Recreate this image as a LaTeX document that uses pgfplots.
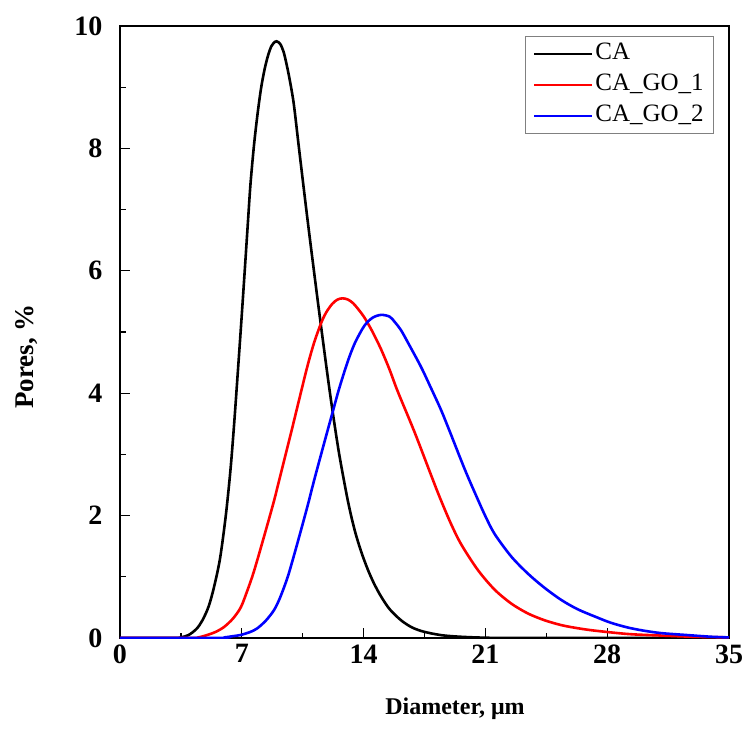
\documentclass[border=0pt]{standalone}
\usepackage{fontspec}
\setmainfont{Liberation Serif}
\usepackage{pgfplots}
\pgfplotsset{compat=1.18}
\begin{document}
\begin{tikzpicture}[x=1pt,y=1pt]
\path[use as bounding box] (-120,-96) rectangle (627,638);
\begin{axis}[at={(0,0)}, anchor=south west, scale only axis,
  width=609pt, height=612pt,
  xmin=0, xmax=35, ymin=0, ymax=10,
  xtick={0,7,14,21,28,35}, ytick={0,2,4,6,8,10},
  minor x tick num=1, minor y tick num=1,
  tick align=inside, xtick pos=lower, ytick pos=left,
  major tick length=10pt, minor tick length=5.5pt,
  every tick/.style={black, line width=1.3pt},
  axis line style={line width=1.8pt},
  /pgf/number format/assume math mode=true,
  ticklabel style={font=\fontsize{28}{30}\selectfont\bfseries},
  xticklabel style={yshift=-3pt},
  yticklabel style={xshift=-14pt},
  xlabel={Diameter, μm}, ylabel={Pores, \%},
  label style={font=\fontsize{24}{28}\selectfont\bfseries},
  xlabel style={at={(axis description cs:0.55,-0.116)}, anchor=center},
  ylabel style={at={(axis description cs:-0.153,0.46)}, anchor=center, rotate=0,
    font=\fontsize{27}{30}\selectfont\bfseries},
  legend style={at={(axis description cs:0.665,0.984)}, anchor=north west,
    draw=gray, line width=0.8pt, font=\fontsize{25}{27}\selectfont,
    inner xsep=8pt, inner ysep=4pt, row sep=4pt,
    nodes={inner sep=2pt, text height=17pt, text depth=6pt}},
  legend cell align=left,
  legend image code/.code={\draw[#1, line width=2pt] (0pt,0pt) -- (58pt,0pt);},
]
\addplot[black, line width=2.6pt, smooth, tension=0.5] coordinates {
(0,0) (3,0) (3.5,0.01) (3.95,0.05) (4.4,0.15) (4.74,0.29) (5.1,0.52) (5.41,0.84)
(5.75,1.3) (6.08,2.0) (6.35,2.75) (6.56,3.5) (6.78,4.38) (6.98,5.2) (7.18,6.05)
(7.36,6.83) (7.5,7.42) (7.7,8.05) (7.9,8.55) (8.1,8.97) (8.3,9.28) (8.5,9.51)
(8.7,9.67) (8.9,9.74) (9.0,9.75) (9.2,9.71) (9.4,9.58) (9.6,9.34) (9.8,9.05)
(10.0,8.7) (10.3,7.97) (10.78,6.83) (11.36,5.52) (11.9,4.35) (12.22,3.7) (12.6,3.0)
(13.09,2.25) (13.47,1.78) (13.85,1.42) (14.24,1.12) (14.6,0.89) (15.0,0.68) (15.5,0.47)
(16.15,0.29) (16.8,0.17) (17.5,0.10) (18.5,0.045) (19.6,0.02) (21,0.005) (23,0) (35,0)
};
\addlegendentry{CA}
\addplot[red, line width=2.6pt, smooth, tension=0.5] coordinates {
(0,0) (4,0) (4.5,0.01) (5.03,0.05) (5.5,0.1) (5.98,0.18) (6.5,0.32) (6.94,0.5)
(7.3,0.76) (7.71,1.1) (8.38,1.76) (8.86,2.25) (9.15,2.58) (9.82,3.34) (10.3,3.9)
(10.78,4.45) (11.15,4.82) (11.55,5.14) (11.85,5.32) (12.2,5.46) (12.5,5.53) (12.8,5.55)
(13.1,5.53) (13.4,5.47) (13.7,5.37) (14.04,5.24) (14.5,5.01) (15.0,4.72) (15.5,4.38)
(15.96,4.03) (16.92,3.37) (17.88,2.66) (18.36,2.31) (19.0,1.88) (19.61,1.53) (20.57,1.11)
(21.53,0.79) (22.5,0.56) (23.45,0.40) (24.4,0.29) (25.37,0.21) (26.3,0.16) (27.3,0.12)
(29.2,0.065) (31.1,0.04) (33,0.02) (35,0.01)
};
\addlegendentry{CA\_GO\_1}
\addplot[blue, line width=2.6pt, smooth, tension=0.5] coordinates {
(0,0) (5.5,0) (6,0.01) (6.5,0.03) (6.94,0.05) (7.5,0.1) (7.9,0.16) (8.4,0.29)
(8.86,0.46) (9.2,0.66) (9.63,0.99) (10.01,1.36) (10.4,1.76) (10.8,2.18) (11.16,2.58)
(11.7,3.15) (12.22,3.69) (12.6,4.08) (13.09,4.52) (13.5,4.82) (14.04,5.1) (14.5,5.23)
(15.0,5.28) (15.5,5.25) (15.8,5.16) (16.15,5.03) (16.6,4.8) (17.3,4.43) (17.88,4.08)
(18.46,3.72) (19.0,3.34) (19.61,2.9) (20.0,2.63) (20.57,2.26) (21.0,1.99) (21.53,1.7)
(22.49,1.33) (23.45,1.05) (24.4,0.82) (25.37,0.62) (26.3,0.47) (27.3,0.35) (28.2,0.25)
(29.2,0.17) (30.1,0.12) (31.1,0.08) (32.5,0.05) (34,0.02) (35,0.01)
};
\addlegendentry{CA\_GO\_2}
\end{axis}
\end{tikzpicture}
\end{document}
